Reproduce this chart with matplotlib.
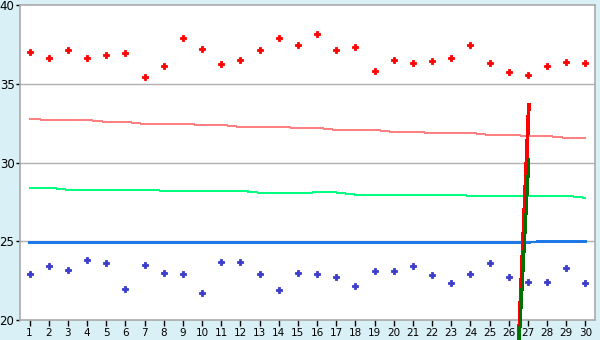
import matplotlib
matplotlib.use("Agg")
import matplotlib.pyplot as plt

days = list(range(1, 31))
high_points = [37.0, 36.63, 37.13, 36.63, 36.82, 36.94, 35.42, 36.12, 37.89, 37.19,
               36.25, 36.5, 37.13, 37.89, 37.45, 38.14, 37.13, 37.32, 35.8, 36.5,
               36.31, 36.44, 36.63, 37.45, 36.31, 35.76, 35.57, 36.14, 36.39, 36.33]
low_points = [22.89, 23.4, 23.2, 23.78, 23.59, 22.0, 23.52, 23.0, 22.89, 21.69,
              23.71, 23.71, 22.89, 21.88, 23.0, 22.89, 22.7, 22.19, 23.08, 23.08,
              23.4, 22.83, 22.32, 22.89, 23.59, 22.7, 22.39, 22.39, 23.27, 22.32]
pink_line = [32.77, 32.70, 32.70, 32.70, 32.58, 32.58, 32.45, 32.45, 32.45, 32.39,
             32.39, 32.26, 32.26, 32.26, 32.2, 32.2, 32.07, 32.07, 32.07, 31.94,
             31.94, 31.88, 31.88, 31.88, 31.75, 31.75, 31.69, 31.69, 31.56, 31.56]
green_line = [28.40, 28.40, 28.27, 28.27, 28.27, 28.27, 28.27, 28.21, 28.21, 28.21,
              28.21, 28.21, 28.08, 28.08, 28.08, 28.1, 28.1, 27.96, 27.96, 27.96,
              27.96, 27.96, 27.96, 27.89, 27.89, 27.89, 27.89, 27.89, 27.89, 27.76]
blue_line = [24.94] * 27 + [24.98] * 3
spike_red_x = [26.52, 27.05]
spike_red_y = [18.7, 33.67]
spike_green_x = [26.55, 27.05]
spike_green_y = [18.7, 30.17]
y_ticks = [20, 25, 30, 35, 40]

bg = "#daf0f7"
fig = plt.figure(figsize=(6, 3.4), dpi=100, facecolor=bg)
ax = fig.add_axes([20/600, 1-320/340, 575/600, 315/340])
ax.set_facecolor("white")

for v in [25, 30, 35]:
    ax.axhline(v, color="#b0b0b0", lw=1, zorder=1)

ax.plot(days, pink_line, color="#ff8080", lw=0.72, antialiased=False, zorder=2)
ax.plot(days, green_line, color="#00ff80", lw=0.72, antialiased=False, zorder=2)
ax.plot(days, blue_line, color="#1e78e6", lw=1.3, antialiased=False, zorder=2)

ax.plot(days, high_points, linestyle="none", marker="P", markersize=4.5,
        color="#ff0000", markeredgewidth=0.6, markeredgecolor="#ff0000", zorder=3)
ax.plot(days, low_points, linestyle="none", marker="P", markersize=4.5,
        color="#3a3acc", markeredgewidth=0.6, markeredgecolor="#3a3acc", zorder=3)

ax.plot(spike_red_x, spike_red_y, color="#ff0000", lw=2.0, antialiased=False,
        clip_on=False, zorder=4)
ax.plot(spike_green_x, spike_green_y, color="#007000", lw=1.5, antialiased=False,
        clip_on=False, zorder=5)

ax.set_xlim(0.5, 30.5)
ax.set_ylim(20, 40)
ax.set_xticks(days)
ax.set_xticklabels([str(d) for d in days])
ax.set_yticks(y_ticks)
ax.set_yticklabels([str(t) for t in y_ticks])
for s in ax.spines.values():
    s.set_color("#aaaaaa")
    s.set_linewidth(1.2)
ax.tick_params(axis="x", length=4, width=1, color="black", labelsize=7.5, pad=2)
ax.tick_params(axis="y", length=3, width=1, color="black", labelsize=8.5, pad=1)

fig.savefig("out.png", dpi=100, facecolor=bg)
